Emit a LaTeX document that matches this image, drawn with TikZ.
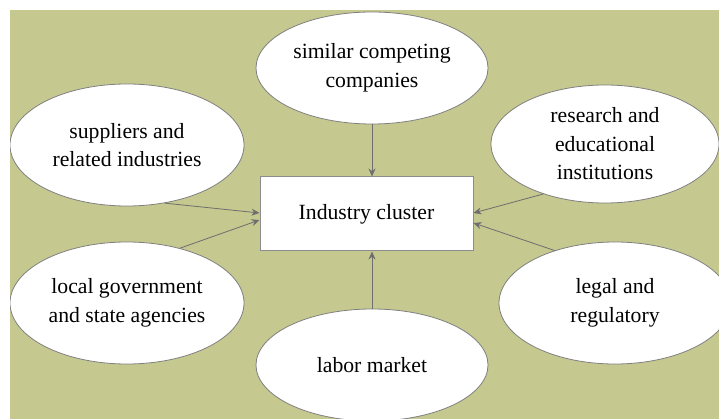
\documentclass[tikz,border=0pt]{standalone}
\usepackage{fontspec}
\setmainfont{Liberation Serif}
\usetikzlibrary{shapes.geometric,arrows.meta}
\definecolor{olive}{HTML}{C5C88F}
\definecolor{edgegray}{HTML}{6E6E6E}
\tikzset{
  bubble/.style={ellipse,draw=gray,line width=0.8pt,fill=white,inner sep=0pt,align=center},
  clusterbox/.style={rectangle,draw=gray!90,line width=1pt,fill=white,minimum width=213pt,minimum height=74pt}
}
\begin{document}
\begin{tikzpicture}[x=1pt,y=-1pt,font=\fontsize{21.7}{28.5}\selectfont]
      \useasboundingbox (0,0) rectangle (719,419);
      \fill[olive] (10,10) rectangle (719,419);
      \begin{scope}
        \clip (10,10) rectangle (719,419);
        \draw
          (372,68) node[bubble,minimum width=232pt,minimum height=112pt] (top){similar competing\\companies}
          (127,145) node[bubble,minimum width=234pt,minimum height=122pt] (sup){suppliers and\\related industries}
          (605,144) node[bubble,minimum width=228pt,minimum height=118pt] (res){research and\\educational\\institutions}
          (127,303) node[bubble,minimum width=234pt,minimum height=122pt] (gov){local government\\and state agencies}
          (615,303) node[bubble,minimum width=232pt,minimum height=122pt] (leg){legal and\\regulatory}
          (372,365) node[bubble,minimum width=232pt,minimum height=112pt] (lab){labor market}
          (366.5,214) node[clusterbox] (clu){Industry cluster};
      \end{scope}
      \begin{scope}[-{Stealth[length=8pt,width=7pt]},draw=edgegray,line width=0.8pt]
        \draw (top.south) to (top.south |- clu.north);
        \draw (lab.north) to (lab.north |- clu.south);
        \draw (sup.-57) to ([yshift=1pt]clu.west);
        \draw (gov.46) to ([yshift=-6pt]clu.west);
        \draw (res.219) to ([yshift=1pt]clu.east);
        \draw (leg.139) to ([yshift=-9pt]clu.east);
      \end{scope}
    \end{tikzpicture}
\end{document}
